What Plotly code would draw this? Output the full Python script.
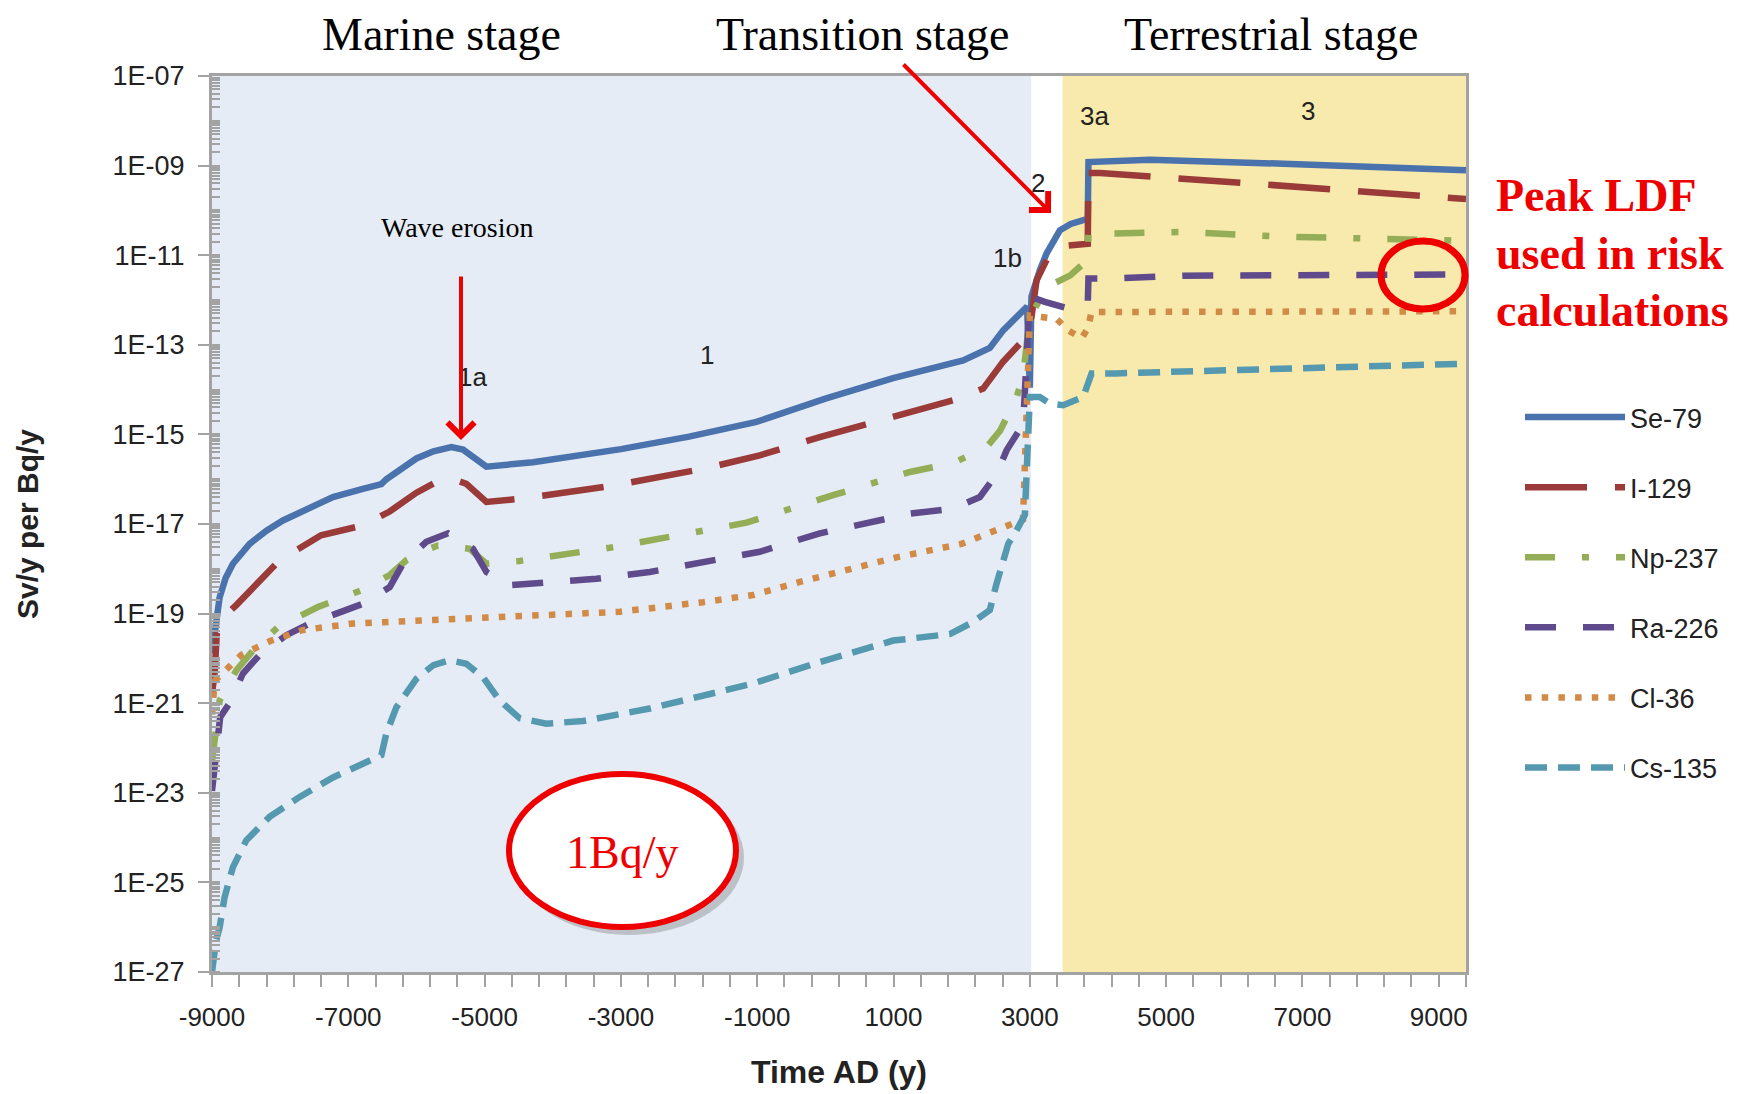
import plotly.graph_objects as go

# ---------------- data ----------------
YEARS_SE79 = [-9000, -8937, -8888, -8800, -8693, -8448, -8200, -7959, -7600, -7225, -6800,
              -6515, -6442, -6200, -6001, -5750, -5488, -5317, -5150, -4974, -4290, -3500,
              -3000, -2000, -1011, 0, 994, 2022, 2413, 2609, 2902, 2960, 3000, 3024, 3146,
              3246, 3441, 3600, 3808, 3850, 3860, 4762, 6719, 9400]
SV_SE79 = [1.3e-20, 6.0e-20, 2.3e-19, 6.2e-19, 1.3e-18, 3.6e-18, 7.1e-18, 1.2e-17, 2.2e-17, 4.0e-17, 6.0e-17,
           7.8e-17, 1.0e-16, 1.9e-16, 2.9e-16, 4.2e-16, 5.2e-16, 4.6e-16, 3.0e-16, 1.9e-16, 2.4e-16, 3.5e-16,
           4.7e-16, 8.9e-16, 1.9e-15, 6.3e-15, 1.8e-14, 4.5e-14, 8.5e-14, 2.1e-13, 5.9e-13, 7.1e-13, 1.1e-14,
           1.2e-12, 4.6e-12, 1.1e-11, 3.6e-11, 5.0e-11, 6.2e-11, 6.3e-11, 1.2e-09, 1.35e-09, 1.1e-09, 7.9e-10]

YEARS_I129 = [-9000, -8960, -8930, -8850, -8643, -8300, -8008, -7400, -6785, -6393, -6000, -5659,
              -5464, -5268, -4974, -4437, -3115, -1795, -963, -82, 1876, 2315, 2609, 2902, 3024,
              3099, 3294, 3500, 3850, 3860, 4029, 6230, 9400]
SV_I129 = [1.6e-21, 5.0e-21, 3.6e-20, 7.9e-20, 1.55e-19, 5.6e-19, 1.55e-18, 5.6e-18, 9.3e-18, 1.9e-17, 5.0e-17, 9.5e-17,
           1.0e-16, 7.9e-17, 3.1e-17, 3.7e-17, 7.2e-17, 1.7e-16, 3.4e-16, 8.7e-16, 5.8e-15, 1.05e-14, 4.2e-14, 1.26e-13, 4.2e-13,
           2.75e-12, 1.1e-11, 1.6e-11, 1.8e-11, 6.8e-10, 6.8e-10, 4.0e-10, 1.8e-10]

YEARS_NP237 = [-9000, -8960, -8888, -8643, -8399, -8032, -7446, -6809, -6400, -6148, -5900, -5684,
               -5219, -4974, -4485, -3164, -2528, -1157, 114, 1240, 1876, 2366, 2561, 2800, 2900,
               3000, 3246, 3588, 3850, 3860, 4077, 5251, 6719, 8480, 9400]
SV_NP237 = [5.0e-23, 2.0e-22, 1.15e-21, 5.4e-21, 1.5e-20, 5.0e-20, 1.4e-19, 3.3e-19, 7.1e-19, 1.55e-18, 2.5e-18, 3.3e-18,
            2.8e-18, 1.3e-18, 1.5e-18, 2.95e-18, 4.5e-18, 1.07e-17, 4.4e-17, 1.45e-16, 2.3e-16, 5.2e-16, 1.2e-15, 6.3e-15, 2.0e-14,
            4.0e-13, 1.95e-12, 3.5e-12, 7.9e-12, 3.0e-11, 3.0e-11, 3.3e-11, 2.6e-11, 2.3e-11, 2.1e-11]

YEARS_RA226 = [-9000, -8950, -8880, -8742, -8546, -8301, -7910, -7567, -6785, -6393, -6198, -5855,
               -5537, -5170, -4974, -4632, -3359, -2577, -1795, -963, -82, 1240, 1876, 2267, 2512,
               2659, 2902, 3000, 3220, 3563, 3850, 3860, 4127, 5251, 9400]
SV_RA226 = [1.1e-23, 5.4e-23, 4.9e-22, 1.0e-21, 4.6e-21, 1.2e-20, 3.3e-20, 6.0e-20, 1.66e-19, 3.9e-19, 1.3e-18, 4.0e-18,
            6.2e-18, 2.8e-18, 8.5e-19, 4.3e-19, 6.0e-19, 8.5e-19, 1.4e-18, 2.4e-18, 6.2e-18, 1.7e-17, 2.2e-17, 4.0e-17, 1.3e-16,
            4.4e-16, 1.7e-15, 1.2e-12, 9.1e-13, 6.5e-13, 8.3e-13, 3.0e-12, 3.0e-12, 3.5e-12, 3.7e-12]

YEARS_CL36 = [-9000, -8960, -8742, -8570, -8130, -7665, -6932, -5464, -3996, -3017, -1795, -1061,
              -375, 1044, 1998, 2683, 2900, 3000, 3392, 3563, 3759, 3850, 3906, 9400]
SV_CL36 = [5.6e-22, 3.2e-21, 6.6e-21, 1.2e-20, 2.5e-20, 4.3e-20, 6.0e-20, 7.4e-20, 9.1e-20, 1.1e-19, 1.8e-19, 2.6e-19,
           5.1e-19, 1.8e-18, 3.6e-18, 9.3e-18, 1.26e-17, 4.5e-13, 3.8e-13, 2.1e-13, 1.4e-13, 2.3e-13, 5.4e-13, 5.6e-13]

YEARS_CS135 = [-9000, -8940, -8888, -8815, -8693, -8497, -8155, -7714, -7225, -6687, -6515, -6442,
               -6295, -6001, -5750, -5512, -5268, -5024, -4779, -4485, -4093, -3556, -2577, -1061,
               -82, 994, 1827, 2169, 2413, 2512, 2683, 2805, 2927, 3000, 3146, 3294, 3490, 3783,
               3906, 4273, 6719, 9400]
SV_CS135 = [1.0e-27, 5.0e-27, 1.0e-26, 4.7e-26, 2.2e-25, 8.7e-25, 2.9e-24, 8.1e-24, 2.2e-23, 5.4e-23, 6.9e-23, 2.1e-22,
            8.1e-22, 3.5e-21, 7.1e-21, 9.1e-21, 7.6e-21, 3.8e-21, 1.15e-21, 4.6e-22, 3.5e-22, 4.0e-22, 7.6e-22, 2.75e-21,
            8.3e-21, 2.5e-20, 3.5e-20, 6.5e-20, 1.2e-19, 4.7e-19, 3.6e-18, 7.2e-18, 1.6e-17, 6.8e-15, 6.8e-15, 4.9e-15,
            4.5e-15, 6.8e-15, 2.3e-14, 2.3e-14, 3.0e-14, 3.8e-14]

SERIES_NAMES = ["Se-79", "I-129", "Np-237", "Ra-226", "Cl-36", "Cs-135"]
SERIES_YEARS = [YEARS_SE79, YEARS_I129, YEARS_NP237, YEARS_RA226, YEARS_CL36, YEARS_CS135]
SERIES_VALUES = [SV_SE79, SV_I129, SV_NP237, SV_RA226, SV_CL36, SV_CS135]

STAGE_MARINE = [-9000, 3020]
STAGE_TERRESTRIAL = [3480, 9400]
STAGE_TITLES = ["Marine stage", "Transition stage", "Terrestrial stage"]
PHASE_LABELS = ["1a", "1", "1b", "2", "3a", "3"]

X_RANGE = [-9000, 9400]
X_TICKVALS = [-9000, -7000, -5000, -3000, -1000, 1000, 3000, 5000, 7000, 9000]
X_TICKTEXT = [str(v) for v in X_TICKVALS]
Y_TICKVALS = [1e-07, 1e-09, 1e-11, 1e-13, 1e-15, 1e-17, 1e-19, 1e-21, 1e-23, 1e-25, 1e-27]
Y_TICKTEXT = ["1E-07", "1E-09", "1E-11", "1E-13", "1E-15", "1E-17", "1E-19", "1E-21", "1E-23", "1E-25", "1E-27"]

# ---------------- styles ----------------
COLORS = ["#4A73AD", "#9B3B39", "#93AE57", "#5F4B8B", "#D28A47", "#5499AF"]
DASHES = ["solid", "62px,28px", "30px,27px,7px,27px", "31px,27px", "6.5px,10.2px", "22px,11px"]
WIDTH = 6.5
SANS = "Arial, 'Liberation Sans', sans-serif"
SERIF = "'Times New Roman', 'Liberation Serif', serif"
AXIS_GRAY = "#A3A3A3"

# the page body adds an 8 px offset; figure is sized so the window shows it whole
OFF = 8
W, H = 1752 - OFF, 1094 - OFF
PLOT_X0, PLOT_X1, PLOT_Y0, PLOT_Y1 = 212, 1466, 76, 972   # plot area in window pixels
L, R, T, B = PLOT_X0 - OFF, W - (PLOT_X1 - OFF), PLOT_Y0 - OFF, H - (PLOT_Y1 - OFF)
PW, PH = PLOT_X1 - PLOT_X0, PLOT_Y1 - PLOT_Y0


def px(x):
    return (x - PLOT_X0) / PW


def py(y):
    return (PLOT_Y1 - y) / PH


fig = go.Figure()

for name, xs, ys, col, dash in zip(SERIES_NAMES, SERIES_YEARS, SERIES_VALUES, COLORS, DASHES):
    fig.add_trace(go.Scatter(x=xs, y=ys, mode="lines", name=name, legendgroup=name,
                             line=dict(color=col, width=WIDTH, dash=dash)))

shapes = [
    dict(type="rect", xref="x", yref="paper", x0=STAGE_MARINE[0], x1=STAGE_MARINE[1], y0=0, y1=1,
         fillcolor="#E6ECF5", line=dict(width=0), layer="below"),
    dict(type="rect", xref="x", yref="paper", x0=STAGE_TERRESTRIAL[0], x1=STAGE_TERRESTRIAL[1], y0=0, y1=1,
         fillcolor="#F8E9AC", line=dict(width=0), layer="below"),
    # shadow + ellipse for "1Bq/y"
    dict(type="circle", xref="paper", yref="paper", x0=px(514), x1=px(744), y0=py(935), y1=py(780),
         fillcolor="rgba(0,0,0,0.18)", line=dict(width=0)),
    dict(type="circle", xref="paper", yref="paper", x0=px(509), x1=px(736), y0=py(927), y1=py(774),
         fillcolor="white", line=dict(color="#EE0000", width=6)),
    # red circle around the Ra-226 end value
    dict(type="circle", xref="paper", yref="paper", x0=px(1381), x1=px(1465), y0=py(309), y1=py(241),
         fillcolor="rgba(0,0,0,0)", line=dict(color="#EE0000", width=7)),
]

annotations = []
for txt, xc in zip(STAGE_TITLES, [441, 862, 1271]):
    annotations.append(dict(text=txt, xref="paper", yref="paper", x=px(xc), y=py(OFF), showarrow=False,
                            xanchor="center", yanchor="top", borderpad=0,
                            font=dict(family=SERIF, size=46, color="black")))

for txt, (xc, yc) in zip(PHASE_LABELS, [(472, 377), (707, 355), (1007, 258), (1038, 183), (1094, 116), (1308, 111)]):
    annotations.append(dict(text=txt, xref="paper", yref="paper", x=px(xc), y=py(yc), showarrow=False,
                            xanchor="center", yanchor="middle",
                            font=dict(family=SANS, size=26, color="#222222")))

annotations.append(dict(text="Wave erosion", xref="paper", yref="paper", x=px(457), y=py(228), showarrow=False,
                        xanchor="center", yanchor="middle", font=dict(family=SERIF, size=28, color="black")))
# arrows
annotations.append(dict(text="", xref="paper", yref="paper", x=px(461), y=py(440), ax=0, ay=-165,
                        showarrow=True, arrowhead=4, arrowsize=1.3, arrowwidth=4, arrowcolor="#EE0000"))
annotations.append(dict(text="", xref="paper", yref="paper", x=px(1051), y=py(213), ax=-149, ay=-150,
                        showarrow=True, arrowhead=4, arrowsize=1.3, arrowwidth=4, arrowcolor="#EE0000"))

annotations.append(dict(text="1Bq/y", xref="paper", yref="paper", x=px(622), y=py(852), showarrow=False,
                        xanchor="center", yanchor="middle", font=dict(family=SERIF, size=46, color="#EE0000")))

for i, line in enumerate(["Peak LDF", "used in risk", "calculations"]):
    annotations.append(dict(text="<b>%s</b>" % line, xref="paper", yref="paper", x=px(1494), y=py(196 + 57 * i),
                            showarrow=False, xanchor="left", yanchor="middle",
                            font=dict(family=SERIF, size=46, color="#EE0000")))

minor_y = [k * 10.0 ** e for e in range(-27, -7) for k in range(1, 10)]

fig.update_layout(
    width=W, height=H,
    margin=dict(l=L, r=R, t=T, b=B, pad=0, autoexpand=False),
    paper_bgcolor="white", plot_bgcolor="white",
    shapes=shapes, annotations=annotations,
    showlegend=True,
    legend=dict(x=px(1520), y=py(393), xanchor="left", yanchor="top", xref="paper", yref="paper",
                font=dict(family=SANS, size=27, color="#222222"), bgcolor="rgba(0,0,0,0)",
                tracegroupgap=32, itemwidth=100),
    xaxis=dict(range=X_RANGE, tickmode="array", tickvals=X_TICKVALS, ticktext=X_TICKTEXT, automargin=False,
               showgrid=False, zeroline=False, showline=True, linecolor=AXIS_GRAY, linewidth=3, mirror=True,
               ticks="outside", ticklen=12, tickwidth=2, tickcolor=AXIS_GRAY, ticklabelstandoff=8,
               minor=dict(tick0=-9000, dtick=400, ticks="outside", ticklen=12, tickwidth=2, tickcolor=AXIS_GRAY,
                          showgrid=False),
               tickfont=dict(family=SANS, size=26, color="#222222"),
               title=dict(text="<b>Time AD (y)</b>", font=dict(family=SANS, size=32, color="#222222"), standoff=30)),
    yaxis=dict(type="log", range=[-27, -7], tickmode="array", tickvals=Y_TICKVALS, ticktext=Y_TICKTEXT, automargin=False,
               showgrid=False, zeroline=False, showline=True, linecolor=AXIS_GRAY, linewidth=3, mirror=True,
               ticks="outside", ticklen=11, tickwidth=2, tickcolor=AXIS_GRAY, ticklabelstandoff=8,
               minor=dict(tickmode="array", tickvals=minor_y, ticks="inside", ticklen=8, tickwidth=2,
                          tickcolor=AXIS_GRAY, showgrid=False),
               tickfont=dict(family=SANS, size=27, color="#222222"),
               title=dict(text="<b>Sv/y per Bq/y</b>", font=dict(family=SANS, size=30, color="#222222"), standoff=66)),
)

fig.write_html("out.html")
